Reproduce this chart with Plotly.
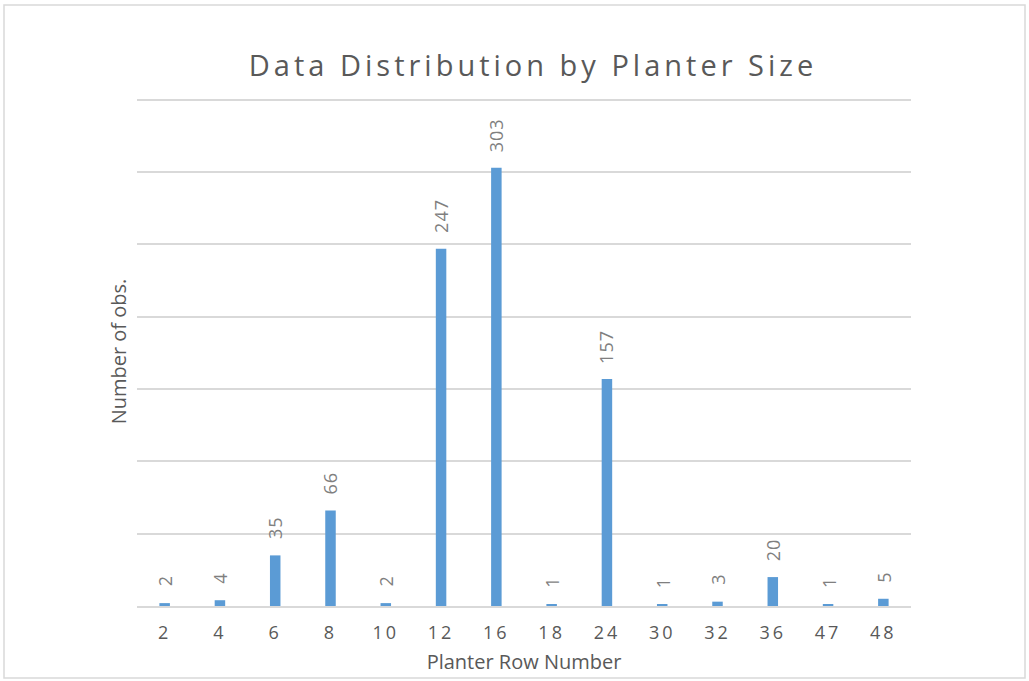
import plotly.graph_objects as go

categories = ["2", "4", "6", "8", "10", "12", "16", "18", "24", "30", "32", "36", "47", "48"]
counts = [2, 4, 35, 66, 2, 247, 303, 1, 157, 1, 3, 20, 1, 5]
y_max = 352
y_step = 50

FONT = "Open Sans"
GRAY = "#595959"
LABEL_GRAY = "#7f7f7f"
GRID = "#d9d9d9"

L, R, T, B = 137, 118, 97, 75
W, H = 1029, 681
pw, ph = W - L - R, H - T - B

fig = go.Figure(
    go.Bar(
        x=categories,
        y=counts,
        marker=dict(color="#5b9bd5", line=dict(width=0)),
        width=0.19,
        hoverinfo="x+y",
    )
)

# data labels: x given as category index on the category axis
for i, v in enumerate(counts):
    fig.add_annotation(
        x=i, y=v, xref="x", yref="y",
        text=str(v),
        showarrow=False,
        textangle=-90,
        xanchor="center",
        yanchor="bottom",
        yshift=15,
        font=dict(family=FONT, size=18, color=LABEL_GRAY),
    )

fig.update_layout(
    width=W,
    height=H,
    margin=dict(l=L, r=R, t=T, b=B),
    paper_bgcolor="white",
    plot_bgcolor="white",
    showlegend=False,
    title=dict(
        text="Data Distribution by Planter Size",
        x=533 / W,
        xanchor="center",
        y=1 - 66 / H,
        yanchor="middle",
        font=dict(family=FONT, size=29, color=GRAY),
    ),
    xaxis=dict(
        type="category",
        categoryorder="array",
        categoryarray=categories,
        range=[-0.5, len(categories) - 0.5],
        showgrid=False,
        showline=True,
        linecolor=GRID,
        linewidth=2,
        ticks="",
        ticklabelstandoff=9,
        tickfont=dict(family=FONT, size=18, color=GRAY),
        title=dict(text="Planter Row Number", font=dict(family=FONT, size=20, color=GRAY), standoff=12),
    ),
    yaxis=dict(
        range=[0, y_max],
        dtick=y_step,
        showgrid=True,
        gridcolor=GRID,
        gridwidth=1.5,
        showticklabels=False,
        zeroline=False,
        ticks="",
        title=dict(text="Number of obs.", font=dict(family=FONT, size=20, color=GRAY), standoff=4),
    ),
)

# outer chart border
fig.add_shape(
    type="rect",
    xref="paper", yref="paper",
    x0=(4 - L) / pw, x1=(1025 - L) / pw,
    y0=(H - B - 678) / ph, y1=(H - B - 5) / ph,
    line=dict(color=GRID, width=1.5),
    fillcolor="rgba(0,0,0,0)",
    layer="below",
)

post = """
var s = document.createElement('style');
s.innerHTML = 'body{margin:0;} .gtitle{letter-spacing:4px;} .xtick text{letter-spacing:3px;} .annotation-text{letter-spacing:1px;}';
document.head.appendChild(s);
"""
fig.write_html("out.html", post_script=post, config={"displayModeBar": False})
